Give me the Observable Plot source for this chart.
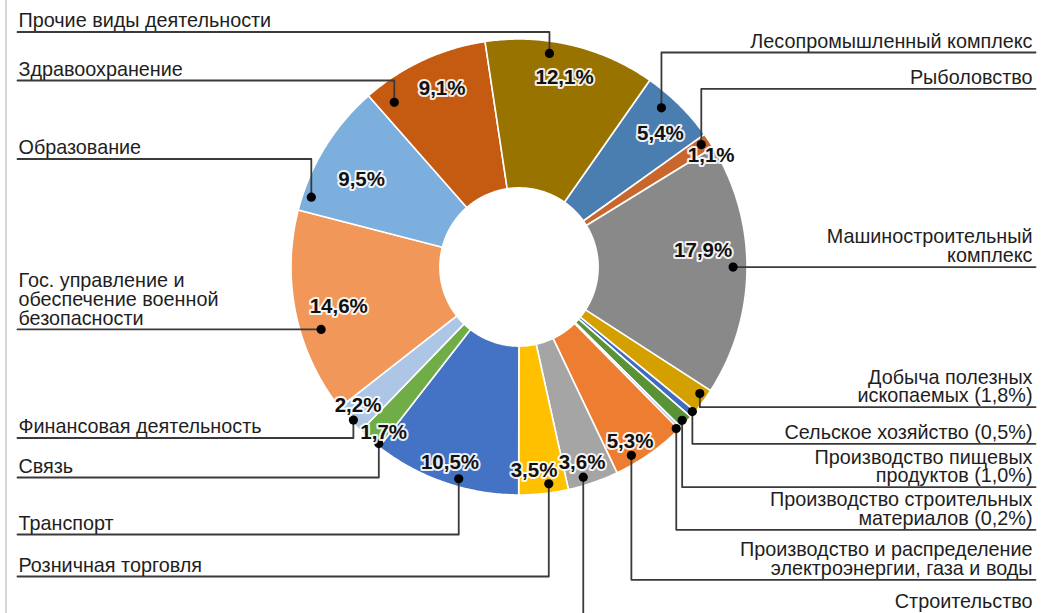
<!DOCTYPE html>
<html><head><meta charset="utf-8">
<script src="https://cdn.jsdelivr.net/npm/d3@7"></script>
<script src="https://cdn.jsdelivr.net/npm/@observablehq/plot@0.6"></script>
<style>
html,body{margin:0;padding:0;background:#fff;}
#wrap{position:relative;width:1042px;height:613px;overflow:hidden;}
#edge{position:absolute;left:5px;top:0;width:1.5px;height:613px;background:#d6d6d6;}
#wrap svg{overflow:hidden;display:block;}
</style></head>
<body><div id="wrap"><div id="edge"></div></div>
<script>
// ---- data (clockwise from the first slice) ----
const categories = ["Лесопромышленный комплекс","Рыболовство","Машиностроительный комплекс","Добыча полезных ископаемых","Сельское хозяйство","Производство пищевых продуктов","Производство строительных материалов","Производство и распределение электроэнергии, газа и воды","Строительство","Розничная торговля","Транспорт","Связь","Финансовая деятельность","Гос. управление и обеспечение военной безопасности","Образование","Здравоохранение","Прочие виды деятельности"];
const shares = [5.4,1.1,17.9,1.8,0.5,1.0,0.2,5.3,3.6,3.5,10.5,1.7,2.2,14.6,9.5,9.1,12.1];
const colors = ["#4a7eb1","#c9662b","#898989","#d4a000","#3f6cc0","#5a9237","#a9c6ea","#ed7d31","#a5a5a5","#ffc000","#4472c4","#70ad47","#aec6e6","#f1975a","#7cafdd","#c55a11","#997300"];
const labelLines = [["Лесопромышленный комплекс"],["Рыболовство"],["Машиностроительный","комплекс"],["Добыча полезных","ископаемых"],["Сельское хозяйство"],["Производство пищевых","продуктов"],["Производство строительных","материалов"],["Производство и распределение","электроэнергии, газа и воды"],["Строительство"],["Розничная торговля"],["Транспорт"],["Связь"],["Финансовая деятельность"],["Гос. управление и","обеспечение военной","безопасности"],["Образование"],["Здравоохранение"],["Прочие виды деятельности"]];
const valueInLabel = [false,false,false,true,true,true,true,false,false,false,false,false,false,false,false,false,false];

// ---- layout (units of outer radius, centre of the ring = 0,0) ----
const startAngle = 35, innerRadius = 0.347;
const labelSide = ["right","right","right","right","right","right","right","right","right","left","left","left","left","left","left","left","left"];
const rowY = [0.9408,0.7816,null,-0.6149,-0.7754,-0.9658,-1.1526,-1.3719,-1.5241,-1.3575,-1.1732,-0.9232,-0.75,null,0.4737,0.818,1.0307];
const dotShift = [-2.9,-0.3,-0.6,-1.1,-0.4,0.3,0.7,4.2,2.0,-1.6,-3.1,-2.5,-0.7,-5.7,-13.0,-12.2,-5.1];
const dotRadius = [0.937,0.963,0.939,0.968,0.990,0.982,0.989,0.962,0.964,0.960,0.966,0.989,0.989,0.910,0.961,0.906,0.946];
const valueShift = [2.0,3.5,-5.7,null,null,null,null,2.5,1.1,2.0,0.5,-1.6,1.3,-0.5,-2.6,1.6,0.3];
const valueRadius = [0.852,0.974,0.811,null,null,null,null,0.906,0.899,0.895,0.908,0.936,0.932,0.809,0.789,0.851,0.856];
const leftEdge = -2.1996, rightEdge = 2.2654, leftText = -2.1952, rightText = 2.2522, textGap = 0.021;

const W = 1042, H = 613;
const xDomain = [-518.5/228, (W-518.5)/228];
const yDomain = [(266.5-H)/228, 266.5/228];
const lowestBaseline = yDomain[0] + 0.024;

const fmt = v => d3.format(".1f")(v).replace(".", ",") + "%";
const rad = d => d * Math.PI / 180;
const polar = (deg, r) => ({x: r*Math.sin(rad(deg)), y: r*Math.cos(rad(deg))});

// slices
const slicePts = [];
const mids = [];
let cum = 0;
categories.forEach((c, i) => {
  const s = startAngle + cum*3.6, e = startAngle + (cum + shares[i])*3.6;
  cum += shares[i];
  mids.push((s+e)/2);
  const n = Math.max(2, Math.ceil((e - s)/0.5));
  for (let k = 0; k <= n; k++) slicePts.push({cat: c, ...polar(s + (e-s)*k/n, 1)});
  for (let k = n; k >= 0; k--) slicePts.push({cat: c, ...polar(s + (e-s)*k/n, innerRadius)});
});

// callouts
const dots = categories.map((c, i) => ({cat: c, ...polar(mids[i] + dotShift[i], dotRadius[i])}));
const leaders = [];
const labels = [];
categories.forEach((c, i) => {
  const d = dots[i];
  const y = rowY[i] === null ? d.y : rowY[i];
  const edge = labelSide[i] === "left" ? leftEdge : rightEdge;
  leaders.push({cat: c, x: d.x, y: d.y}, {cat: c, x: d.x, y}, {cat: c, x: edge, y});
  const lines = labelLines[i].slice();
  if (valueInLabel[i]) lines[lines.length-1] += " (" + fmt(shares[i]) + ")";
  labels.push({cat: c, side: labelSide[i], text: lines.join("\n"),
    x: labelSide[i] === "left" ? leftText : rightText, y: Math.max(y + textGap, lowestBaseline)});
});
const values = categories.map((c, i) => valueShift[i] === null ? null :
  ({cat: c, text: fmt(shares[i]), ...polar(mids[i] + valueShift[i], valueRadius[i])})).filter(d => d);

const font = "'Liberation Sans', Arial, sans-serif";
const chart = Plot.plot({
  width: W, height: H,
  margin: 0,
  x: {domain: xDomain, range: [0, W], axis: null},
  y: {domain: yDomain, range: [H, 0], axis: null},
  color: {domain: categories, range: colors},
  style: {fontFamily: font, background: "white", overflow: "hidden"},
  marks: [
    Plot.line(slicePts, {x: "x", y: "y", z: "cat", fill: "cat", stroke: "white", strokeWidth: 1.6, curve: "linear-closed"}),
    Plot.line(leaders, {x: "x", y: "y", z: "cat", stroke: "#3a3a3a", strokeWidth: 1.8, curve: "linear"}),
    Plot.dot(dots, {x: "x", y: "y", r: 4.6, fill: "#000", stroke: "none"}),
    Plot.text(labels.filter(d => d.side === "left"), {x: "x", y: "y", text: "text", textAnchor: "start", lineAnchor: "bottom", lineHeight: 0.95, fontSize: 19.8, fill: "#1e1e1e"}),
    Plot.text(labels.filter(d => d.side === "right"), {x: "x", y: "y", text: "text", textAnchor: "end", lineAnchor: "bottom", lineHeight: 0.95, fontSize: 19.8, fill: "#1e1e1e"}),
    Plot.text(values, {x: "x", y: "y", text: "text", fontSize: 20.5, fontWeight: "bold", fill: "#111", stroke: "white", strokeWidth: 4, strokeOpacity: 0.9})
  ]
});
document.getElementById("wrap").appendChild(chart);
</script>
</body></html>
